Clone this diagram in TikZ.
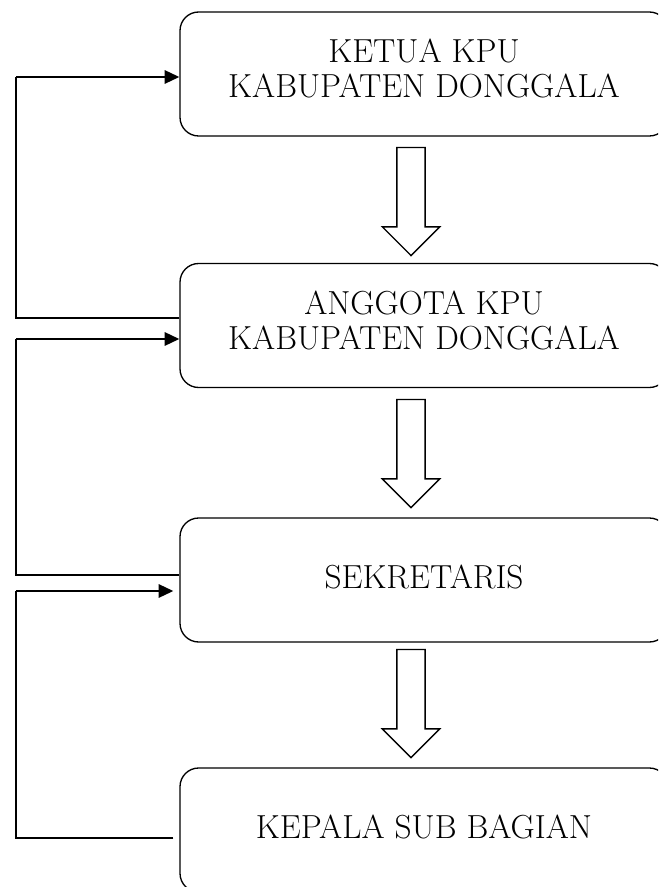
\documentclass[tikz,border=0pt]{standalone}
\usepackage{tikz}
\usetikzlibrary{arrows.meta, shapes.arrows, positioning, calc}

\begin{document}
\begin{tikzpicture}[
            x = 0.75pt,
            y = -0.75pt,
            kotak/.style = {draw, line width = 1pt, rounded corners = 14pt,
                minimum width = 366pt, minimum height = 93pt, inner sep = 0pt,
                align = center, text depth = 5.2pt,
                font = \fontsize{25}{26}\selectfont},
            duabaris/.style = {text depth = 8.2pt},
            panah/.style = {draw, line width = 1pt, single arrow,
                shape border rotate = 270, minimum height = 81pt,
                inner sep = 10.1pt, single arrow head extend = 10.9pt},
            garis/.style = {line width = 0.8pt},
            masuk/.style = {line width = 1.5pt, -{Triangle[length = 11pt, width = 10pt]}}
        ]
        \path[use as bounding box, clip] (0,0) rectangle (658,887);

        \node[kotak, duabaris] (ketua) at (424,74) {KETUA KPU\\KABUPATEN DONGGALA};
        \node[kotak, duabaris] (anggota) at (424,325.5) {ANGGOTA KPU\\KABUPATEN DONGGALA};
        \node[kotak] (sekretaris) at (424,580) {SEKRETARIS};
        \node[kotak] (kasubag) at (424,830) {KEPALA SUB BAGIAN};

        \node[panah] (p1) at (411,194.5) {};
        \node[panah] (p2) at (411,446.5) {};
        \node[panah] (p3) at (411,696.5) {};

        \coordinate (b1) at (16,77);
        \coordinate (b2) at (16,339);
        \coordinate (b3) at (16,591);

        \draw[garis] ($(anggota.west)+(0,-7.5)$) -| (b1);
        \draw[masuk] (b1) -- (ketua.west |- b1);
        \draw[garis] ($(sekretaris.west)+(0,-5)$) -| (b2);
        \draw[masuk] (b2) -- (anggota.west |- b2);
        \draw[garis] ($(kasubag.west)+(-6,8)$) -| (b3);
        \draw[masuk, shorten > = 4.5pt] (b3) -- (sekretaris.west |- b3);
    \end{tikzpicture}
\end{document}
